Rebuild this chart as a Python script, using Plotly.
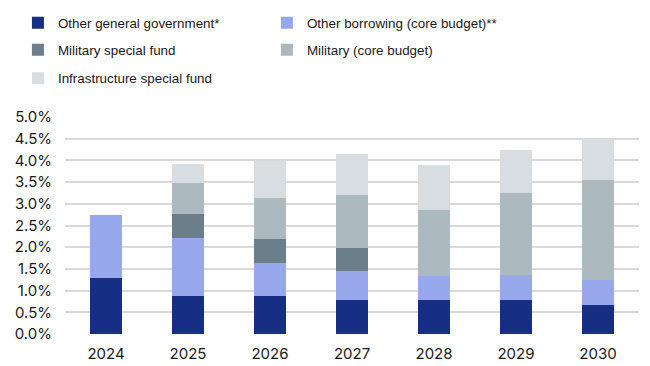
import plotly.graph_objects as go

years = ["2024", "2025", "2026", "2027", "2028", "2029", "2030"]
other_general_gov = [1.30, 0.88, 0.88, 0.79, 0.79, 0.79, 0.67]
other_borrowing = [1.44, 1.33, 0.76, 0.66, 0.55, 0.57, 0.58]
military_special_fund = [0, 0.55, 0.55, 0.54, 0, 0, 0]
military_core = [0, 0.72, 0.94, 1.21, 1.52, 1.89, 2.30]
infrastructure_fund = [0, 0.43, 0.86, 0.94, 1.03, 0.98, 0.95]
y_ticks = [0.0, 0.5, 1.0, 1.5, 2.0, 2.5, 3.0, 3.5, 4.0, 4.5, 5.0]

series = [
    ("Other general government*", other_general_gov, "#172E85", "legend"),
    ("Other borrowing (core budget)**", other_borrowing, "#97A9EC", "legend"),
    ("Military special fund", military_special_fund, "#6A7F89", "legend2"),
    ("Military (core budget)", military_core, "#ACB9BE", "legend2"),
    ("Infrastructure special fund", infrastructure_fund, "#D8DDE1", "legend3"),
]

fig = go.Figure()
for name, vals, color, lg in series:
    fig.add_trace(go.Bar(x=years, y=vals, name=name, legend=lg,
                         marker=dict(color=color, line=dict(width=0)),
                         hovertemplate="%{x}: %{y:.2f}%<extra>" + name + "</extra>"))

tick_font = "Inter, Roboto, Arial, sans-serif"
legend_font = dict(family="Liberation Sans, Arial, sans-serif", size=13.4, color="#1a1a1a")
W, H = 642, 358
T, B = 109, 32
PH = H - T - B


def legend_at(row_center_px):
    return dict(orientation="h", x=-0.082, xref="paper", xanchor="left",
                y=1 + (T - row_center_px) / PH, yref="paper", yanchor="middle",
                entrywidth=204, entrywidthmode="pixels", traceorder="normal",
                font=legend_font, bgcolor="rgba(0,0,0,0)")


fig.update_layout(
    barmode="stack",
    bargap=0.6,
    width=W, height=H,
    margin=dict(l=57, r=11, t=T, b=B, autoexpand=False),
    paper_bgcolor="white", plot_bgcolor="white",
    font=dict(family=tick_font, size=15, color="#1a1a1a"),
    legend=legend_at(15),
    legend2=legend_at(42),
    legend3=legend_at(70.5),
    showlegend=True,
)
fig.update_yaxes(range=[0, 5], tickvals=y_ticks, ticktext=[f"{v:.1f}%" for v in y_ticks],
                 showgrid=True, gridcolor="#D9D9D9", gridwidth=1.5, zeroline=False,
                 showline=False, ticks="", ticklabelstandoff=12, automargin=False,
                 tickfont=dict(family=tick_font, size=15, color="#1a1a1a"))
fig.update_xaxes(showgrid=False, showline=False, ticks="", automargin=False,
                 ticklabelstandoff=9, tickfont=dict(family=tick_font, size=15, color="#1a1a1a"))

fig.write_html("out.html")
